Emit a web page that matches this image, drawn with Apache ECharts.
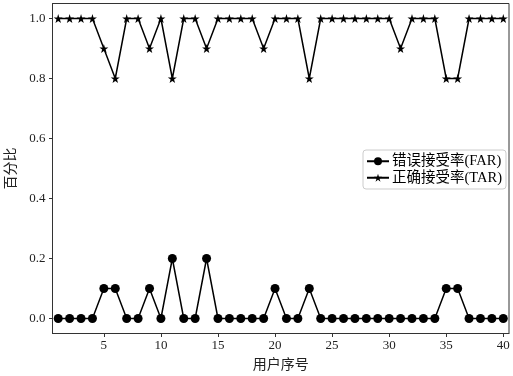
<!DOCTYPE html>
<html>
<head>
<meta charset="utf-8">
<script src="https://cdn.jsdelivr.net/npm/echarts@6/dist/echarts.min.js"></script>
<style>html,body{margin:0;padding:0;background:#fff}#c{width:513px;height:376px}</style>
</head>
<body>
<div id="c"></div>
<script>
var users = [];
for (var i = 1; i <= 40; i++) users.push(i);
var farValues = [0,0,0,0,0.1,0.1,0,0,0.1,0,0.2,0,0,0.2,0,0,0,0,0,0.1,0,0,0.1,0,0,0,0,0,0,0,0,0,0,0,0.1,0.1,0,0,0,0];
var tarValues = [1,1,1,1,0.9,0.8,1,1,0.9,1,0.8,1,1,0.9,1,1,1,1,0.9,1,1,1,0.8,1,1,1,1,1,1,1,0.9,1,1,1,0.8,0.8,1,1,1,1];
var xTicks = [5,10,15,20,25,30,35,40];
var yTicks = [0,0.2,0.4,0.6,0.8,1.0];
var farName = '错误接受率(FAR)';
var tarName = '正确接受率(TAR)';
var xName = '用户序号';
var yName = '百分比';

var star = 'path://M0,-1L0.2245,-0.309L0.9511,-0.309L0.3633,0.118L0.5878,0.809L0,0.382L-0.5878,0.809L-0.3633,0.118L-0.9511,-0.309L-0.2245,-0.309Z';
var FONT = "'Liberation Serif','Noto Sans CJK SC',serif";
function pairs(v){ return v.map(function(y,i){ return [users[i], y]; }); }

var chart = echarts.init(document.getElementById('c'));
chart.setOption({
  animation: false,
  backgroundColor: '#fff',
  textStyle: { fontFamily: FONT },
  grid: { left: 52.5, right: 4, top: 3.5, bottom: 42.5, containLabel: false, outerBoundsMode: 'none',
    show: true, borderColor: '#333', borderWidth: 1, backgroundColor: 'transparent' },
  legend: {
    orient: 'vertical', left: 363, top: 150,
    itemWidth: 22, itemHeight: 10, itemGap: 2,
    padding: [4, 4, 4, 3],
    borderColor: '#ccc', borderWidth: 1, borderRadius: 3,
    backgroundColor: '#fff',
    textStyle: { fontFamily: FONT, fontSize: 14.5, color: '#000', padding: [0,0,0,-2] },
    data: [farName, tarName]
  },
  xAxis: {
    type: 'value', min: 0.5, max: 40.5,
    name: xName, nameLocation: 'middle', nameGap: 25,
    nameTextStyle: { fontFamily: FONT, fontSize: 14, color: '#222' },
    axisLine: { show: true, onZero: false, lineStyle: { color: '#333', width: 1 } },
    axisTick: { show: true, length: 3.5, customValues: xTicks, lineStyle: { color: '#333' } },
    axisLabel: { customValues: xTicks, fontFamily: FONT, fontSize: 13, color: '#222', margin: 6 },
    splitLine: { show: false }
  },
  yAxis: {
    type: 'value', min: -0.05, max: 1.05,
    name: yName, nameLocation: 'middle', nameGap: 34, nameRotate: 90,
    nameTextStyle: { fontFamily: FONT, fontSize: 14, color: '#222' },
    axisLine: { show: true, onZero: false, lineStyle: { color: '#333', width: 1 } },
    axisTick: { show: true, length: 3.5, customValues: yTicks, lineStyle: { color: '#333' } },
    axisLabel: { customValues: yTicks, fontFamily: FONT, fontSize: 13, color: '#222', margin: 7,
      formatter: function(v){ return v.toFixed(1); } },
    splitLine: { show: false }
  },
  series: [
    { name: farName, type: 'line', data: pairs(farValues), symbol: 'circle', symbolSize: 9,
      lineStyle: { color: '#000', width: 1.5 }, itemStyle: { color: '#000' } },
    { name: tarName, type: 'line', data: pairs(tarValues), symbol: star, symbolSize: 9,
      lineStyle: { color: '#000', width: 1.5 }, itemStyle: { color: '#000' } }
  ]
});
</script>
</body>
</html>
